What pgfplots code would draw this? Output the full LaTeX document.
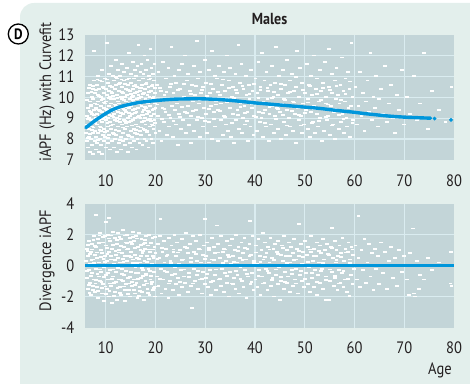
\documentclass[border=0pt]{standalone}
\usepackage{pgfplots}
\pgfplotsset{compat=1.18}
\usepackage{fontspec}
\setmainfont{PT Sans}[FakeStretch=0.88]
\definecolor{bgc}{RGB}{227,239,236}
\definecolor{panelc}{RGB}{195,213,216}
\definecolor{gridc}{RGB}{218,236,240}
\definecolor{bluec}{RGB}{0,150,219}
\definecolor{txtc}{RGB}{35,31,32}
\pgfplotsset{
  panel/.style={
    scale only axis, width=369pt, xmin=5.83, xmax=80,
    axis line style={draw=none}, major tick length=0pt, minor tick length=0pt,
    xtick={10,20,...,80}, minor xtick={10,20,...,70},
    xminorgrids=true, yminorgrids=true, xmajorgrids=false, ymajorgrids=false,
    minor grid style={gridc, line width=1.3pt},
    axis background/.style={fill=panelc},
    /pgf/number format/assume math mode=true,
    tick label style={font=\fontsize{16.5}{18}\selectfont, text=txtc, inner sep=0pt},
    xticklabel style={anchor=base, yshift=-26pt},
    yticklabel style={anchor=east, xshift=-10.5pt},
    label style={font=\fontsize{16.5}{18}\selectfont, text=txtc, inner sep=0pt},
    clip=false, clip marker paths=true,
  },
  wdots/.style={color=white, only marks, mark=-, mark size=1.9pt,
    mark options={color=white, line width=1.8pt}},
}
\begin{document}
\begin{tikzpicture}[x=1pt,y=1pt]
\useasboundingbox (0,0) rectangle (470,383);
\clip (0,0) rectangle (470,383);
\fill[bgc, rounded corners=14pt] (20,-20) rectangle (495,380);

\begin{axis}[panel, at={(85pt,223pt)}, anchor=south west, height=125.5pt,
  ymin=7, ymax=13, ytick={7,...,13}, minor ytick={8,...,12},
  title={Males},
  title style={at={(axis description cs:0.5,1)}, anchor=base, yshift=4.5pt, inner sep=0pt,
    font=\fontsize{16}{18}\selectfont\bfseries, text=txtc},
  ylabel={iAPF (Hz) with Curvefit},
  ylabel style={at={(axis description cs:-0.103,0.54)}, anchor=center},
]
\addplot[wdots] coordinates {
(6.1,8.3) (6.2,9.1) (6.3,7.9) (6.3,8.7) (6.4,9.5) (6.5,7.6) (6.5,10.2) (6.6,8.1) (6.7,9.0) (6.7,8.5) (6.8,9.8) (6.9,7.4) (6.9,10.6) (7.0,8.9) (7.0,9.3)
(7.1,8.0) (7.1,9.6) (7.2,7.7) (7.2,10.0) (7.3,8.6) (7.3,9.2) (7.4,10.4) (7.4,7.3) (7.5,8.3) (7.5,9.9) (7.6,12.2) (7.6,8.8) (7.7,9.4) (7.7,10.8) (7.8,7.9) (7.8,8.4) (7.9,9.7) (7.9,10.2) (8.0,8.1) (8.0,9.0)
(8.1,7.5) (8.1,9.5) (8.2,10.6) (8.2,8.7) (8.3,9.2) (8.3,7.8) (8.4,10.1) (8.4,8.3) (8.5,9.8) (8.5,11.0) (8.6,8.9) (8.6,7.4) (8.7,9.4) (8.7,10.4) (8.8,8.0) (8.8,9.1) (8.9,10.8) (8.9,8.6) (9.0,9.6) (9.0,7.7)
(9.1,8.4) (9.1,10.0) (9.2,9.3) (9.2,11.3) (9.3,8.8) (9.3,7.3) (9.4,9.9) (9.4,10.5) (9.5,8.2) (9.5,9.0) (9.6,7.9) (9.6,10.2) (9.7,9.5) (9.7,8.5) (9.8,10.9) (9.8,9.7) (9.9,8.1) (9.9,9.2) (10.0,10.4) (10.0,7.6)
(10.1,8.9) (10.1,9.8) (10.2,12.6) (10.2,8.4) (10.3,10.1) (10.3,9.4) (10.4,7.8) (10.4,10.7) (10.5,9.0) (10.5,8.6) (10.6,11.1) (10.6,9.6) (10.7,8.2) (10.7,10.3) (10.8,9.3) (10.8,7.5) (10.9,10.0) (10.9,8.8) (11.0,9.9) (11.0,11.5)
(11.1,8.5) (11.1,9.7) (11.2,10.5) (11.2,7.9) (11.3,9.1) (11.3,10.2) (11.4,8.3) (11.4,11.0) (11.5,9.5) (11.5,8.7) (11.6,10.8) (11.6,7.6) (11.7,9.9) (11.7,9.2) (11.8,8.0) (11.8,10.4) (11.9,9.4) (11.9,8.9) (12.0,10.6) (12.0,11.8)
(12.1,9.6) (12.1,8.2) (12.2,10.1) (12.2,9.0) (12.3,7.4) (12.3,10.9) (12.4,8.6) (12.4,9.8) (12.5,11.3) (12.5,9.3) (12.6,8.4) (12.6,10.3) (12.7,7.8) (12.7,9.7) (12.8,10.7) (12.8,8.8) (12.9,9.1) (12.9,11.0) (13.0,8.1) (13.0,10.0)
(13.1,9.5) (13.1,7.5) (13.2,10.5) (13.2,8.7) (13.3,9.9) (13.3,11.6) (13.4,8.3) (13.4,9.2) (13.5,10.2) (13.5,7.9) (13.6,9.6) (13.6,10.8) (13.7,8.9) (13.7,11.2) (13.8,9.4) (13.8,8.5) (13.9,10.0) (13.9,7.7) (14.0,9.8) (14.0,10.4)
(14.1,8.0) (14.1,9.3) (14.2,11.4) (14.2,10.1) (14.3,8.6) (14.3,9.7) (14.4,7.4) (14.4,10.6) (14.5,9.0) (14.5,8.2) (14.6,10.9) (14.6,9.5) (14.7,8.8) (14.7,12.1) (14.8,10.3) (14.8,7.8) (14.9,9.9) (14.9,9.1) (15.0,11.1) (15.0,8.4)
(15.1,9.6) (15.1,10.7) (15.2,8.1) (15.2,9.2) (15.3,10.0) (15.3,7.6) (15.4,11.7) (15.4,8.9) (15.5,10.4) (15.5,9.4) (15.6,8.5) (15.6,10.9) (15.7,9.8) (15.7,7.9) (15.8,11.3) (15.8,9.0) (15.9,10.2) (15.9,8.3) (16.0,9.7) (16.0,10.6)
(16.1,8.7) (16.1,11.0) (16.2,9.3) (16.2,7.5) (16.3,10.5) (16.3,9.9) (16.4,8.0) (16.4,11.5) (16.5,9.5) (16.5,8.6) (16.6,10.1) (16.6,12.5) (16.7,9.1) (16.7,10.8) (16.8,7.8) (16.8,9.7) (16.9,10.3) (16.9,8.4) (17.0,11.2) (17.0,9.0)
(17.1,10.0) (17.1,8.2) (17.2,9.6) (17.2,11.6) (17.3,8.8) (17.3,10.6) (17.4,7.7) (17.4,9.3) (17.5,10.9) (17.5,9.8) (17.6,8.5) (17.6,11.1) (17.7,9.4) (17.7,10.2) (17.8,8.0) (17.8,12.0) (17.9,9.0) (17.9,10.4) (18.0,8.7) (18.0,9.9)
(18.1,11.3) (18.1,9.5) (18.2,7.9) (18.2,10.7) (18.3,9.2) (18.3,8.4) (18.4,10.1) (18.4,11.8) (18.5,9.7) (18.5,8.9) (18.6,10.5) (18.6,7.6) (18.7,9.3) (18.7,11.0) (18.8,8.2) (18.8,10.0) (18.9,9.6) (18.9,8.6) (19.0,10.9) (19.0,12.3)
(19.1,9.1) (19.1,10.3) (19.2,8.0) (19.2,11.4) (19.3,9.8) (19.3,8.7) (19.4,10.6) (19.4,9.4) (19.5,7.8) (19.5,11.1) (19.6,10.0) (19.6,8.5) (19.7,9.2) (19.7,10.8) (19.8,8.9) (19.8,11.6) (19.9,9.7) (19.9,10.2) (20.0,8.3) (20.0,9.5)
(20.3,10.6) (20.5,9.1) (20.6,11.2) (20.8,8.4) (20.9,9.8) (21.1,10.3) (21.2,7.9) (21.4,9.5) (21.5,11.7) (21.7,8.8) (21.8,10.1) (22.0,9.3) (22.1,10.9) (22.3,8.2)
(22.4,9.9) (22.6,11.4) (22.7,8.6) (22.9,10.5) (23.0,9.0) (23.2,12.4) (23.3,9.6) (23.5,8.1) (23.6,10.2) (23.8,11.0) (23.9,9.4) (24.1,8.7) (24.2,10.7) (24.4,9.7)
(24.5,7.7) (24.7,11.3) (24.8,9.2) (25.0,10.4) (25.1,8.5) (25.3,9.9) (25.4,11.6) (25.6,8.9) (25.7,10.0) (25.9,9.3) (26.0,12.0) (26.2,8.3) (26.3,10.8) (26.5,9.6)
(26.6,11.1) (26.8,8.7) (26.9,10.3) (27.1,9.1) (27.2,7.8) (27.4,10.6) (27.5,9.8) (27.7,11.5) (27.8,8.4) (28.0,10.1) (28.1,9.4) (28.3,12.7) (28.4,8.9) (28.6,10.9)
(28.7,9.7) (28.9,8.1) (29.0,11.2) (29.2,10.2) (29.3,9.0) (29.5,8.6) (29.6,10.5) (29.8,9.5) (29.9,11.8)
(30.1,9.2) (30.2,10.7) (30.4,8.3) (30.5,9.9) (30.7,11.3) (30.8,8.8) (31.0,10.2) (31.1,9.6) (31.3,12.2) (31.4,8.0) (31.6,10.4) (31.7,9.3) (31.9,11.0) (32.0,8.6)
(32.2,9.8) (32.3,10.9) (32.5,7.9) (32.6,9.4) (32.8,11.5) (32.9,10.1) (33.1,8.9) (33.2,9.7) (33.4,10.6) (33.5,8.2) (33.7,11.2) (33.8,9.1) (34.0,10.3) (34.1,8.7)
(34.3,9.9) (34.4,12.0) (34.6,8.4) (34.7,10.8) (34.9,9.5) (35.0,11.4) (35.2,8.1) (35.3,10.0) (35.5,9.2) (35.6,10.5) (35.8,7.8) (35.9,9.8) (36.1,11.1) (36.2,8.9)
(36.4,10.2) (36.5,9.4) (36.7,12.5) (36.8,8.5) (37.0,10.7) (37.1,9.7) (37.3,11.6) (37.4,8.3) (37.6,9.0) (37.7,10.4) (37.9,9.6) (38.0,8.7) (38.2,11.0) (38.3,10.1)
(38.5,9.3) (38.6,7.9) (38.8,10.6) (38.9,9.9) (39.1,8.6) (39.2,11.3) (39.4,9.5) (39.5,10.3) (39.7,8.2) (39.8,9.1)
(40.1,10.9) (40.2,9.7) (40.4,8.4) (40.5,10.2) (40.7,11.7) (40.8,9.3) (41.0,8.8) (41.1,10.5) (41.3,9.0) (41.4,12.1) (41.6,8.1) (41.7,9.8) (41.9,10.8) (42.0,9.4)
(42.2,8.6) (42.3,11.2) (42.5,9.9) (42.6,10.3) (42.8,7.9) (42.9,9.2) (43.1,10.6) (43.2,8.7) (43.4,11.5) (43.5,9.6) (43.7,10.0) (43.8,8.3) (44.0,9.1) (44.1,10.7)
(44.3,12.4) (44.4,9.5) (44.6,8.5) (44.7,10.1) (44.9,11.0) (45.0,9.3) (45.2,8.0) (45.3,10.4) (45.5,9.7) (45.6,11.3) (45.8,8.8) (45.9,9.9) (46.1,10.6) (46.2,8.2)
(46.4,9.4) (46.5,11.8) (46.7,10.2) (46.8,9.0) (47.0,8.6) (47.1,10.8) (47.3,9.6) (47.4,11.1) (47.6,8.4) (47.7,9.8) (47.9,10.3) (48.0,9.2) (48.2,7.8) (48.3,10.5)
(48.5,12.2) (48.6,9.5) (48.8,8.9) (48.9,10.0) (49.1,11.4) (49.2,9.1) (49.4,8.3) (49.5,10.7) (49.7,9.7) (49.8,8.7)
(50.1,10.2) (50.3,9.4) (50.4,11.6) (50.6,8.5) (50.7,9.9) (50.9,10.6) (51.0,8.1) (51.2,9.3) (51.3,11.0) (51.5,10.1) (51.6,8.8) (51.8,9.6) (51.9,12.0) (52.1,8.3)
(52.2,10.4) (52.4,9.2) (52.5,10.9) (52.7,8.6) (52.8,9.8) (53.0,11.3) (53.1,9.0) (53.3,10.3) (53.4,7.9) (53.6,9.5) (53.7,10.7) (53.9,8.4) (54.0,11.7) (54.2,9.7)
(54.3,10.0) (54.5,8.9) (54.6,9.1) (54.8,10.5) (54.9,12.3) (55.1,8.2) (55.2,9.6) (55.4,11.1) (55.5,10.2) (55.7,8.7) (55.8,9.3) (56.0,10.8) (56.1,8.0) (56.3,9.9)
(56.4,11.4) (56.6,9.4) (56.7,10.1) (56.9,8.5) (57.0,9.7) (57.2,10.6) (57.3,8.8) (57.5,11.9) (57.6,9.2) (57.8,10.3) (57.9,8.3) (58.1,9.8) (58.2,10.9) (58.4,9.0)
(58.5,8.6) (58.7,11.2) (58.8,9.5) (59.0,10.4) (59.1,8.1) (59.3,9.6) (59.4,12.6) (59.6,10.0) (59.7,8.9) (59.9,9.3)
(60.2,10.5) (60.5,8.7) (60.8,9.6) (61.1,11.2) (61.4,9.1) (61.7,10.2) (62.0,8.4) (62.3,9.8) (62.6,10.8) (62.9,9.3) (63.2,12.1) (63.5,8.9) (63.8,10.0) (64.1,9.5)
(64.4,11.0) (64.7,8.6) (65.0,9.9) (65.4,10.4) (65.8,9.2) (66.2,11.5) (66.6,8.8) (67.0,9.7) (67.4,10.6) (67.8,9.0) (68.2,8.3) (68.6,10.1) (69.0,9.4) (69.5,11.3) (70.0,8.7)
(70.6,10.0) (71.2,9.2) (71.9,11.0) (72.5,8.9) (73.2,9.7) (74.0,12.1) (74.8,8.5) (75.5,10.3) (77.0,9.4) (78.3,8.8) (79.5,10.5)
};
\addplot[wdots] coordinates {
(6.25,9.85) (6.45,8.95) (6.6,10.45) (6.85,8.25) (7.05,9.65) (7.25,8.45) (7.45,10.55) (7.65,9.15) (7.85,8.75) (8.05,10.35) (8.25,9.65) (8.45,7.95) (8.65,10.05) (8.85,9.35) (9.05,8.55) (9.25,10.75) (9.45,8.95) (9.65,9.75) (9.85,8.35) (10.05,9.45) (10.25,10.85) (10.45,8.05) (10.65,9.95) (10.85,10.55) (11.05,8.65) (11.25,9.35) (11.45,10.05) (11.65,8.25) (11.85,9.65) (12.05,10.95) (12.25,8.85) (12.45,9.45) (12.65,10.65) (12.85,7.95) (13.05,9.25) (13.25,10.25) (13.45,8.55) (13.65,9.85) (13.85,10.65) (14.05,8.75) (14.25,9.55) (14.45,10.35) (14.65,8.15) (14.85,9.75) (15.05,10.15) (15.25,8.65) (15.45,9.85) (15.65,10.55) (15.85,9.25) (16.05,8.45) (16.25,10.25) (16.45,9.05) (16.65,9.65) (16.85,10.45) (17.05,8.55) (17.25,9.15) (17.45,10.15) (17.65,8.85) (17.85,9.55) (18.05,10.65) (18.25,8.35) (18.45,9.35) (18.65,10.25) (18.85,8.95) (19.05,9.85) (19.25,10.55) (19.45,8.65) (19.65,9.45) (19.85,10.45)
(6.35,8.05) (6.75,9.35) (7.15,10.25) (7.55,8.55) (7.95,9.45) (8.35,10.85) (8.75,8.45) (9.15,9.85) (9.55,10.45) (9.95,9.05) (10.35,8.75) (10.75,9.15) (11.15,10.25) (11.55,9.05) (11.95,8.45) (12.35,9.95) (12.75,8.95) (13.15,10.85) (13.55,9.45) (13.95,8.85) (14.35,10.85) (14.75,9.25) (15.15,8.85) (15.55,10.05) (15.95,9.45) (16.35,8.25) (16.75,9.95) (17.15,10.45) (17.55,9.15) (17.95,8.45) (18.35,9.85) (18.75,10.85) (19.15,8.85) (19.55,9.95) (19.95,8.75)
(20.4,9.65) (20.9,10.45) (21.3,8.95) (21.8,9.45) (22.2,10.25) (22.7,9.15) (23.1,10.65) (23.6,8.85) (24.0,9.85) (24.5,10.35) (24.9,9.05) (25.4,9.55) (25.8,10.65) (26.3,9.25) (26.7,8.65) (27.2,10.15) (27.6,9.35) (28.1,10.55) (28.5,9.05) (29.0,9.85) (29.4,10.35) (29.9,8.85) (30.3,10.05) (30.8,9.45) (31.2,10.65) (31.7,8.95) (32.1,9.65) (32.6,10.25) (33.0,9.35) (33.5,10.85) (33.9,9.05) (34.4,9.75) (34.8,10.45) (35.3,8.75) (35.7,9.95) (36.2,10.35) (36.6,9.15) (37.1,9.55) (37.5,10.55) (38.0,9.25) (38.4,8.85) (38.9,10.15) (39.3,9.65) (39.8,10.65)
(40.2,9.05) (40.7,9.95) (41.1,10.35) (41.6,9.25) (42.0,8.75) (42.5,10.45) (42.9,9.55) (43.4,9.95) (43.8,10.25) (44.3,8.95) (44.7,9.45) (45.2,10.65) (45.6,9.15) (46.1,9.85) (46.5,8.65) (47.0,10.25) (47.4,9.35) (47.9,9.75) (48.3,10.95) (48.8,9.15) (49.2,8.65) (49.7,10.35) (50.1,9.25) (50.6,9.75) (51.0,10.55) (51.5,8.75) (51.9,9.45) (52.4,10.15) (52.8,8.85) (53.3,9.85) (53.7,10.45) (54.2,9.05) (54.6,9.65) (55.1,10.35) (55.5,8.65) (56.0,9.45) (56.4,10.55) (56.9,9.15) (57.3,9.85) (57.8,8.95) (58.2,10.15) (58.7,9.35) (59.1,10.75) (59.6,8.75)
};
\addplot[bluec, line width=3.4pt, line cap=round, smooth, mark=none] coordinates {
(6.0,8.55) (7,8.73) (8,8.91) (9,9.07) (10,9.22) (11,9.36) (12,9.47) (13,9.55) (14,9.62) (15,9.67) (16,9.72) (18,9.79) (20,9.84) (22,9.88) (24,9.91) (26,9.92) (28,9.93) (30,9.92) (32,9.9) (34,9.87) (36,9.83) (38,9.78) (40,9.73) (42,9.69) (44,9.65) (46,9.61) (48,9.57) (50,9.53) (52,9.49) (54,9.44) (56,9.38) (58,9.33) (60,9.28) (62,9.22) (64,9.17) (66,9.12) (68,9.08) (70,9.05) (72,9.03) (74,9.01) (75.3,9.0)
};
\addplot[color=bluec, only marks, mark=*, mark size=1.7pt, mark options={color=bluec, fill=bluec}] coordinates {(76.1,8.98) (79.4,8.92)};
\end{axis}

\begin{axis}[panel, at={(85pt,55.5pt)}, anchor=south west, height=123.7pt,
  ymin=-4, ymax=4, ytick={-4,-2,...,4}, minor ytick={-2,0,2},
  ylabel={Divergence iAPF},
  ylabel style={at={(axis description cs:-0.103,0.54)}, anchor=center},
  xlabel={Age},
  xlabel style={at={(axis description cs:0.962,0)}, anchor=base, yshift=-46.5pt},
]
\addplot[wdots] coordinates {
(6.1,0.3) (6.2,-0.8) (6.3,1.1) (6.4,-1.5) (6.5,0.6) (6.6,-0.3) (6.7,1.6) (6.8,-1.1) (6.9,0.1) (7.0,-1.9) (7.1,0.9) (7.2,-0.5) (7.3,1.4) (7.4,-1.3) (7.5,0.4) (7.6,-0.9) (7.7,1.9) (7.8,-1.7) (7.9,0.7) (8.0,-0.2)
(8.1,3.3) (8.1,1.2) (8.2,-1.4) (8.3,0.5) (8.4,-2.1) (8.5,1.7) (8.6,-0.7) (8.7,0.2) (8.8,-1.0) (8.9,2.1) (9.0,-0.4) (9.1,1.0) (9.2,-1.8) (9.3,0.8) (9.4,-1.2) (9.5,1.5) (9.6,-0.1) (9.7,-2.3) (9.8,0.6) (9.9,1.9) (10.0,2.8) (10.0,-0.6)
(10.1,1.3) (10.2,-1.5) (10.3,0.3) (10.4,-0.9) (10.5,2.0) (10.6,-2.0) (10.7,3.1) (10.7,0.9) (10.8,-0.3) (10.9,1.6) (11.0,-1.3) (11.1,0.4) (11.2,-2.4) (11.3,1.1) (11.4,-0.7) (11.5,2.2) (11.6,-1.1) (11.7,0.1) (11.8,1.8) (11.9,-1.7) (12.0,0.7)
(12.1,-0.4) (12.2,1.4) (12.3,-2.2) (12.4,0.5) (12.5,2.1) (12.6,-0.9) (12.7,1.0) (12.8,-1.4) (12.9,0.2) (13.0,1.7) (13.1,-1.9) (13.2,0.8) (13.3,-0.2) (13.4,2.3) (13.5,-1.0) (13.6,1.2) (13.7,-0.6) (13.8,-2.3) (13.9,0.6) (14.0,1.5)
(14.1,-1.2) (14.2,0.3) (14.3,2.0) (14.4,-0.8) (14.5,1.1) (14.6,-1.6) (14.7,0.0) (14.8,1.8) (14.9,-2.0) (15.0,0.9) (15.1,-0.4) (15.2,1.4) (15.3,-1.3) (15.4,2.2) (15.5,0.4) (15.6,-0.9) (15.7,1.6) (15.8,-1.8) (15.9,0.7) (16.0,-0.1)
(16.1,1.9) (16.2,-1.1) (16.3,0.5) (16.4,-2.1) (16.5,1.2) (16.6,-0.5) (16.7,2.1) (16.8,-1.4) (16.9,0.2) (17.0,1.0) (17.1,-0.8) (17.2,1.7) (17.3,-1.7) (17.4,0.8) (17.5,-0.3) (17.6,1.4) (17.7,-2.2) (17.8,0.3) (17.9,1.1) (18.0,-1.0)
(18.1,1.9) (18.2,-0.6) (18.3,0.6) (18.4,-1.5) (18.5,1.3) (18.6,-0.2) (18.7,2.0) (18.8,-1.9) (18.9,0.9) (19.0,-0.9) (19.1,1.5) (19.2,-1.2) (19.3,0.1) (19.4,1.8) (19.5,-1.6) (19.6,0.5) (19.7,-0.4) (19.8,1.2) (19.9,-2.0) (20.0,0.8)
(20.3,-0.7) (20.5,1.4) (20.6,-1.3) (20.8,0.5) (20.9,1.9) (21.0,3.0) (21.1,-0.2) (21.2,-1.8) (21.4,0.9) (21.5,-0.9) (21.7,1.6) (21.8,0.2) (22.0,-1.5) (22.1,1.1) (22.3,-0.4)
(22.4,0.7) (22.6,-2.1) (22.7,1.8) (22.9,-1.0) (23.0,0.3) (23.2,1.3) (23.3,-0.6) (23.5,-1.6) (23.6,0.9) (23.8,2.0) (23.9,-0.1) (24.1,-1.2) (24.2,0.6) (24.4,1.5)
(24.5,-0.8) (24.7,0.1) (24.8,-1.9) (25.0,1.0) (25.1,-0.3) (25.3,1.7) (25.4,-1.4) (25.6,0.4) (25.7,-0.7) (25.9,1.2) (26.0,-1.1) (26.2,2.1) (26.3,0.0) (26.5,-1.7)
(26.6,0.8) (26.8,-0.5) (26.9,1.4) (27.1,-1.3) (27.2,0.5) (27.4,-2.75) (27.5,1.9) (27.7,-0.2) (27.8,0.9) (28.0,-1.0) (28.1,1.6) (28.3,-0.6) (28.4,0.3) (28.6,-1.5)
(28.7,1.1) (28.9,-0.9) (29.0,2.0) (29.2,0.2) (29.3,-1.8) (29.5,0.7) (29.6,-0.4) (29.8,1.3) (29.9,-1.2)
(30.0,3.0) (30.1,0.6) (30.2,-0.8) (30.4,1.5) (30.5,-1.4) (30.7,0.2) (30.8,1.0) (31.0,-0.3) (31.1,-1.9) (31.3,1.8) (31.4,0.4) (31.6,-1.0) (31.7,1.2) (31.9,-0.6) (32.0,0.8)
(32.2,-1.6) (32.3,2.6) (32.5,0.0) (32.6,1.4) (32.8,-0.9) (32.9,0.5) (33.1,-1.3) (33.2,1.9) (33.4,-0.2) (33.5,0.9) (33.7,-1.7) (33.8,1.1) (34.0,-0.5) (34.1,0.3)
(34.3,1.6) (34.4,-1.1) (34.6,0.7) (34.7,-2.0) (34.9,1.3) (35.0,-0.4) (35.2,0.1) (35.3,1.7) (35.5,-1.2) (35.6,0.6) (35.8,-0.8) (35.9,1.0) (36.1,-1.5) (36.2,2.0)
(36.4,0.2) (36.5,-0.6) (36.7,1.2) (36.8,-1.8) (37.0,0.5) (37.1,-0.1) (37.3,1.5) (37.4,-1.0) (37.6,0.8) (37.7,-1.4) (37.9,1.8) (38.0,-0.3) (38.2,0.4) (38.3,-2.1)
(38.5,1.1) (38.6,-0.7) (38.8,0.0) (38.9,1.4) (39.0,2.9) (39.1,-1.2) (39.2,0.7) (39.4,-0.5) (39.5,1.9) (39.7,-1.6) (39.8,0.3)
(40.1,-0.9) (40.2,1.3) (40.4,0.1) (40.5,-1.4) (40.7,1.7) (40.8,-0.3) (41.0,0.6) (41.1,-1.9) (41.3,1.0) (41.4,-0.7) (41.6,2.1) (41.7,0.4) (41.9,-1.1) (42.0,1.5)
(42.2,-0.2) (42.3,0.8) (42.5,-1.6) (42.6,1.2) (42.8,-0.5) (42.9,0.2) (43.1,1.8) (43.2,-1.3) (43.4,0.5) (43.5,-0.8) (43.7,1.1) (43.8,-2.0) (44.0,0.0) (44.1,1.4)
(44.3,-0.6) (44.4,0.9) (44.6,-1.2) (44.7,1.6) (44.9,-0.1) (45.0,-2.2) (45.2,0.7) (45.3,-1.0) (45.5,1.3) (45.6,0.3) (45.8,-1.5) (45.9,1.9) (46.1,-0.4) (46.2,0.6)
(46.4,-1.1) (46.5,1.0) (46.7,-0.7) (46.8,1.5) (47.0,-1.7) (47.1,0.2) (47.3,1.2) (47.4,-0.3) (47.6,0.8) (47.7,-1.3) (47.9,1.7) (48.0,-0.9) (48.2,0.4) (48.3,-0.2)
(48.5,1.1) (48.6,-1.8) (48.8,0.6) (48.9,2.7) (49.1,-0.6) (49.2,1.4) (49.4,-1.0) (49.5,0.1) (49.7,0.9) (49.8,-1.4)
(50.1,1.6) (50.3,-0.5) (50.4,0.7) (50.6,-1.2) (50.7,1.2) (50.9,-0.1) (51.0,-1.7) (51.2,0.9) (51.3,1.9) (51.5,-0.8) (51.6,0.3) (51.8,-1.4) (51.9,1.1) (52.1,-0.3)
(52.2,0.6) (52.4,-1.9) (52.5,1.5) (52.7,-0.6) (52.8,0.2) (53.0,1.3) (53.1,-1.1) (53.3,0.8) (53.4,-0.2) (53.6,1.7) (53.7,-1.5) (53.9,0.4) (54.0,1.0) (54.2,-0.7)
(54.3,-2.2) (54.5,1.4) (54.6,0.0) (54.8,-2.2) (54.9,0.7) (55.1,-1.0) (55.2,1.2) (55.5,2.45) (55.4,-0.4) (55.7,0.5) (55.8,-1.3) (56.0,1.6) (56.1,-0.8) (56.3,0.2)
(56.4,1.0) (56.6,-1.6) (56.7,0.6) (56.9,-0.3) (57.0,1.3) (57.2,-1.1) (57.3,0.8) (57.5,-0.5) (57.6,1.8) (57.8,-1.4) (57.9,0.3) (58.1,-0.9) (58.2,1.1) (58.4,0.0)
(58.5,-1.7) (58.7,0.9) (58.8,1.5) (59.0,-1.95) (59.1,0.4) (59.3,-0.6) (59.4,1.2) (59.6,-1.2) (59.7,0.7) (59.9,-0.2)
(60.2,1.3) (60.5,-0.9) (60.8,3.2) (60.8,0.5) (61.1,-1.4) (61.4,1.0) (61.7,-0.3) (62.0,1.7) (62.3,-1.1) (62.6,0.2) (62.9,1.4) (63.2,-0.7) (63.5,0.8) (63.8,-1.6) (64.1,1.1)
(64.4,-0.2) (64.7,0.6) (65.0,-1.2) (65.4,1.5) (65.8,-0.5) (66.2,0.9) (66.6,-1.5) (67.0,0.3) (67.4,1.2) (67.8,-0.8) (68.2,0.5) (68.6,-1.3) (69.0,1.0) (69.5,-0.4) (70.0,0.6)
(70.6,-0.9) (71.0,-1.9) (71.2,0.8) (71.7,2.4) (71.9,-1.8) (72.2,-2.0) (72.5,0.3) (73.0,-1.5) (73.2,-0.6) (74.0,-0.9) (74.8,0.5) (75.5,-0.3) (77.0,0.2) (79.4,0.9) (79.3,-1.15) (79.5,-1.3)
};
\addplot[wdots] coordinates {
(6.25,-0.35) (6.45,1.35) (6.6,-1.25) (6.85,0.75) (7.05,-0.65) (7.25,1.05) (7.45,-1.55) (7.65,0.15) (7.85,1.25) (8.05,-0.95) (8.25,0.85) (8.45,-1.65) (8.65,1.45) (8.85,-0.25) (9.05,0.55) (9.25,-1.45) (9.45,1.85) (9.65,-0.75) (9.85,0.25) (10.05,-1.85) (10.25,1.15) (10.45,-0.45) (10.65,1.75) (10.85,-1.15) (11.05,0.65) (11.25,-0.85) (11.45,1.35) (11.65,-1.95) (11.85,0.35) (12.05,-1.05) (12.25,1.65) (12.45,-0.15) (12.65,0.85) (12.85,-1.75) (13.05,1.25) (13.25,-0.55) (13.45,0.45) (13.65,-1.35) (13.85,1.95) (14.05,-0.35) (14.25,1.05) (14.45,-1.85) (14.65,0.65) (14.85,-0.75) (15.05,1.55) (15.25,-1.05) (15.45,0.15) (15.65,-1.55) (15.85,1.15) (16.05,-0.45) (16.25,1.75) (16.45,-0.85) (16.65,0.45) (16.85,-1.65) (17.05,1.35) (17.25,-0.15) (17.45,0.95) (17.65,-1.25) (17.85,1.65) (18.05,-0.55) (18.25,0.25) (18.45,-1.75) (18.65,1.05) (18.85,-0.35) (19.05,1.45) (19.25,-1.05) (19.45,0.65) (19.65,-1.45) (19.85,1.85)
(6.35,0.95) (6.75,-1.75) (7.15,0.35) (7.55,1.65) (7.95,-1.15) (8.35,-0.55) (8.75,1.95) (9.15,-1.05) (9.55,0.45) (9.95,-1.35) (10.35,0.75) (10.75,-1.65) (11.15,1.95) (11.55,-0.25) (11.95,0.95) (12.35,-1.45) (12.75,1.85) (13.15,-0.95) (13.55,0.25) (13.95,-1.55) (14.35,1.45) (14.75,-1.15) (15.15,0.55) (15.55,1.85) (15.95,-1.25) (16.35,0.15) (16.75,-1.95) (17.15,0.65) (17.55,-0.65) (17.95,1.45) (18.35,-1.15) (18.75,0.45) (19.15,-0.65) (19.55,1.05) (19.95,-1.35)
(20.4,0.45) (20.9,-0.85) (21.3,1.15) (21.8,-0.35) (22.2,0.65) (22.7,-1.15) (23.1,0.15) (23.6,1.05) (24.0,-0.55) (24.5,0.85) (24.9,-1.05) (25.4,0.35) (25.8,-0.25) (26.3,1.15) (26.7,-0.75) (27.2,0.25) (27.6,-1.15) (28.1,0.75) (28.5,-0.35) (29.0,1.05) (29.4,-0.85) (29.9,0.45) (30.3,-0.55) (30.8,1.15) (31.2,-1.05) (31.7,0.35) (32.1,-0.25) (32.6,0.85) (33.0,-0.85) (33.5,0.15) (33.9,1.05) (34.4,-0.65) (34.8,0.55) (35.3,-1.15) (35.7,0.25) (36.2,-0.35) (36.6,0.95) (37.1,-0.85) (37.5,0.35) (38.0,1.15) (38.4,-0.55) (38.9,0.65) (39.3,-1.05) (39.8,0.15)
(40.2,0.85) (40.7,-0.65) (41.1,0.25) (41.6,-1.15) (42.0,0.55) (42.5,-0.35) (42.9,1.05) (43.4,-0.95) (43.8,0.35) (44.3,-0.25) (44.7,0.75) (45.2,-0.75) (45.6,1.15) (46.1,-1.05) (46.5,0.15) (47.0,0.65) (47.4,-0.55) (47.9,0.35) (48.3,-1.15) (48.8,0.95) (49.2,-0.35) (49.7,0.55) (50.1,-0.85) (50.6,0.25) (51.0,1.05) (51.5,-0.45) (51.9,0.65) (52.4,-1.05) (52.8,0.95) (53.3,-0.35) (53.7,0.15) (54.2,-0.95) (54.6,0.75) (55.1,-0.25) (55.5,1.15) (56.0,-0.65) (56.4,0.35) (56.9,-1.15) (57.3,0.55) (57.8,-0.35) (58.2,0.85) (58.7,-0.85) (59.1,0.15) (59.6,1.05)
};
\addplot[bluec, line width=3.3pt, mark=none] coordinates {(5.83,0) (80,0)};
\end{axis}

\node[circle, draw=black, line width=1.3pt, fill=white, minimum size=20pt, inner sep=0pt,
  font=\fontsize{15}{16}\selectfont\bfseries] at (18.3,349) {D};
\end{tikzpicture}
\end{document}
